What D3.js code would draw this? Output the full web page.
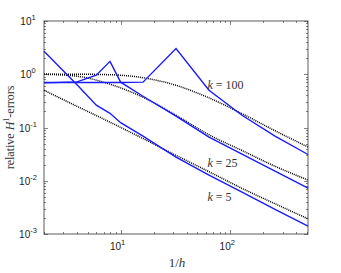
<!DOCTYPE html>
<html>
<head>
<meta charset="utf-8">
<script src="https://cdn.jsdelivr.net/npm/d3@7"></script>
<style>
body { margin: 0; background: #fff; }
.tick-label { font-family: "Liberation Sans", Arial, sans-serif; font-size: 10px; fill: #222; }
.serif { font-family: "Liberation Serif", "DejaVu Serif", serif; fill: #333; }
</style>
</head>
<body>
<div id="chart"></div>
<script>
// 1/h values
var invH = [2, 4, 6, 8, 10, 16, 32, 64, 128, 256, 512];
var invHDot = [2, 4, 8, 16, 32, 64, 128, 256, 512];

// blue: computed relative H1 errors
var errK5 = [2.70, 0.635, 0.262, 0.185, 0.123, 0.069, 0.0277, 0.0127, 0.0061, 0.0029, 0.0014];
var errK25 = [0.69, 0.72, 0.96, 1.75, 0.71, 0.386, 0.163, 0.066, 0.0316, 0.0152, 0.0073];
var errK100 = [0.70, 0.70, 0.70, 0.70, 0.70, 0.71, 3.03, 0.50, 0.170, 0.0687, 0.0311];

// dotted: best approximation errors
var bestK5 = [0.50, 0.25, 0.126, 0.062, 0.030, 0.0148, 0.0072, 0.0037, 0.00193];
var bestK25 = [1.0, 0.92, 0.65, 0.37, 0.17, 0.073, 0.037, 0.0187, 0.0103];
var bestK100 = [1.0, 1.0, 0.98, 0.86, 0.62, 0.36, 0.182, 0.087, 0.043];

var kLabels = [
    {k: "100", x: 62, y: 0.52},
    {k: "25", x: 62, y: 0.0185},
    {k: "5", x: 62, y: 0.0041}
];

var margin = {top: 21, right: 33, bottom: 39, left: 44};
var width = 341 - margin.left - margin.right,
    height = 273 - margin.top - margin.bottom;

var svg = d3.select("#chart").append("svg")
    .attr("width", 341)
    .attr("height", 273)
    .append("g")
    .attr("transform", "translate(" + margin.left + "," + margin.top + ")");

var x = d3.scaleLog().domain([2, 512]).range([0, width]);
var y = d3.scaleLog().domain([1e-3, 10]).range([height, 0]);

var axisColor = "#333";

// minor + major ticks, pointing inward, on all four sides
function logTicks(domain) {
    var out = [];
    for (var e = -4; e <= 3; e++) {
        for (var m = 1; m <= 9; m++) {
            var v = m * Math.pow(10, e);
            if (v >= domain[0] * 0.9999 && v <= domain[1] * 1.0001) out.push({v: v, major: m === 1});
        }
    }
    return out;
}

var xt = logTicks(x.domain());
var yt = logTicks(y.domain());
var ticks = svg.append("g").attr("stroke", axisColor).attr("stroke-width", 0.6);

xt.forEach(function(t) {
    var len = t.major ? 4 : 2;
    var px = Math.round(x(t.v)) + 0.5;
    ticks.append("line").attr("x1", px).attr("x2", px).attr("y1", height).attr("y2", height - len);
    ticks.append("line").attr("x1", px).attr("x2", px).attr("y1", 0).attr("y2", len);
});
yt.forEach(function(t) {
    var len = t.major ? 4 : 2;
    var py = Math.round(y(t.v)) + 0.5;
    ticks.append("line").attr("x1", 0).attr("x2", len).attr("y1", py).attr("y2", py);
    ticks.append("line").attr("x1", width).attr("x2", width - len).attr("y1", py).attr("y2", py);
});

// tick labels
function powLabel(sel, e) {
    sel.append("tspan").text("10");
    sel.append("tspan").attr("dy", -5).attr("font-size", "7.5px").text(e);
}
[1, 2].forEach(function(e) {
    var t = svg.append("text").attr("class", "tick-label")
        .attr("x", x(Math.pow(10, e)) - 3).attr("y", height + 16)
        .attr("text-anchor", "middle");
    powLabel(t, e);
});
[-3, -2, -1, 0, 1].forEach(function(e) {
    var t = svg.append("text").attr("class", "tick-label")
        .attr("x", -16).attr("y", y(Math.pow(10, e)) + 4)
        .attr("text-anchor", "middle");
    powLabel(t, e);
});

// lines
var line = d3.line()
    .x(function(d) { return x(d[0]); })
    .y(function(d) { return y(d[1]); });
var smooth = d3.line()
    .curve(d3.curveMonotoneX)
    .x(function(d) { return x(d[0]); })
    .y(function(d) { return y(d[1]); });

[bestK5, bestK25, bestK100].forEach(function(s) {
    svg.append("path")
        .datum(d3.zip(invHDot, s))
        .attr("d", smooth)
        .attr("fill", "none")
        .attr("stroke", "#000")
        .attr("stroke-width", 1.5)
        .attr("stroke-dasharray", "1,1");
});

[errK5, errK25, errK100].forEach(function(s) {
    svg.append("path")
        .datum(d3.zip(invH, s))
        .attr("d", line)
        .attr("fill", "none")
        .attr("stroke", "#1a1aff")
        .attr("stroke-width", 1.4);
});

// box
svg.append("rect")
    .attr("width", width).attr("height", height)
    .attr("fill", "none").attr("stroke", axisColor).attr("stroke-width", 0.8);

// k labels
kLabels.forEach(function(d) {
    var t = svg.append("text").attr("class", "serif")
        .attr("x", x(d.x)).attr("y", y(d.y))
        .attr("font-size", "12px");
    t.append("tspan").attr("font-style", "italic").text("k");
    t.append("tspan").text(" = " + d.k);
});

// axis titles
var xl = svg.append("text").attr("class", "serif")
    .attr("x", width / 2 + 1).attr("y", height + 33)
    .attr("text-anchor", "middle").attr("font-size", "13px");
xl.append("tspan").text("1/");
xl.append("tspan").attr("font-style", "italic").text("h");

var yl = svg.append("text").attr("class", "serif")
    .attr("transform", "translate(-30," + (height / 2) + ") rotate(-90)")
    .attr("text-anchor", "middle").attr("font-size", "12px");
yl.append("tspan").text("relative ");
yl.append("tspan").attr("font-style", "italic").text("H");
yl.append("tspan").attr("dy", -5).attr("font-size", "8px").text("1");
yl.append("tspan").attr("dy", 5).text("-errors");
</script>
</body>
</html>
